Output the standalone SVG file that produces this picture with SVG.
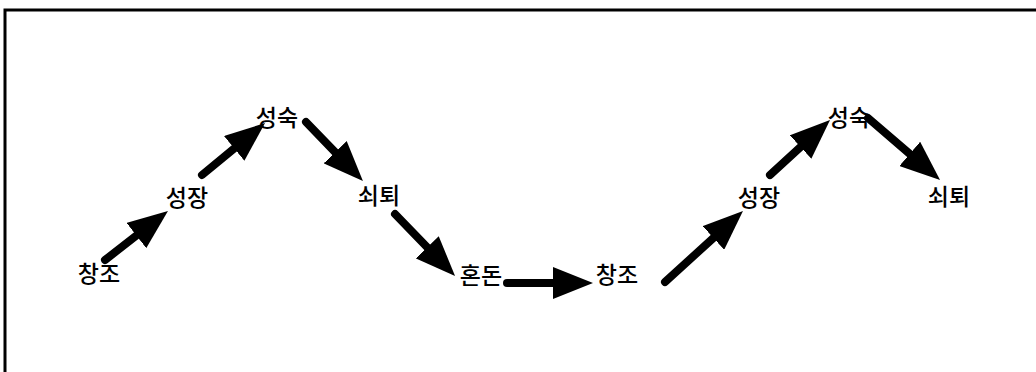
<svg xmlns="http://www.w3.org/2000/svg" width="1036" height="372" viewBox="0 0 1036 372">
<style>
.lbl{font-family:"Noto Sans CJK KR","Noto Sans CJK SC",sans-serif;font-size:23px;font-weight:500;fill:#000;text-anchor:middle;dominant-baseline:central}
.arr{stroke:#000;stroke-width:8;stroke-linecap:round;fill:none;marker-end:url(#head)}
.frame{stroke:#000;stroke-width:3;fill:none}
</style>
<defs>
<marker id="head" markerUnits="userSpaceOnUse" markerWidth="40" markerHeight="32" viewBox="0 0 40 32" refX="10" refY="16" orient="auto">
<path d="M0,0 L40,16 L0,32 z" fill="#000"/>
</marker>
</defs>
<rect width="1036" height="372" fill="#fff"/>
<path class="frame" d="M5,372 L5,10 L1036,10"/>
<g id="connectors">
<line class="arr" x1="105" y1="260" x2="144.3" y2="229.4"/>
<line class="arr" x1="202" y1="175" x2="241.9" y2="142.1"/>
<line class="arr" x1="306" y1="122" x2="342.1" y2="159.4"/>
<line class="arr" x1="395" y1="214" x2="434.2" y2="254.5"/>
<line class="arr" x1="507" y1="283" x2="563" y2="283"/>
<line class="arr" x1="665" y1="282" x2="720.8" y2="231.2"/>
<line class="arr" x1="770" y1="175" x2="807.9" y2="140.3"/>
<line class="arr" x1="868" y1="118" x2="917.3" y2="160.4"/>
</g>
<g id="n1"><text class="lbl" x="99" y="272">창조</text></g>
<g id="n2"><text class="lbl" x="187" y="196">성장</text></g>
<g id="n3"><text class="lbl" x="277" y="116">성숙</text></g>
<g id="n4"><text class="lbl" x="379" y="194">쇠퇴</text></g>
<g id="n5"><text class="lbl" x="481" y="274">혼돈</text></g>
<g id="n6"><text class="lbl" x="617" y="273">창조</text></g>
<g id="n7"><text class="lbl" x="759" y="196">성장</text></g>
<g id="n8"><text class="lbl" x="849" y="116">성숙</text></g>
<g id="n9"><text class="lbl" x="949" y="195">쇠퇴</text></g>
</svg>
